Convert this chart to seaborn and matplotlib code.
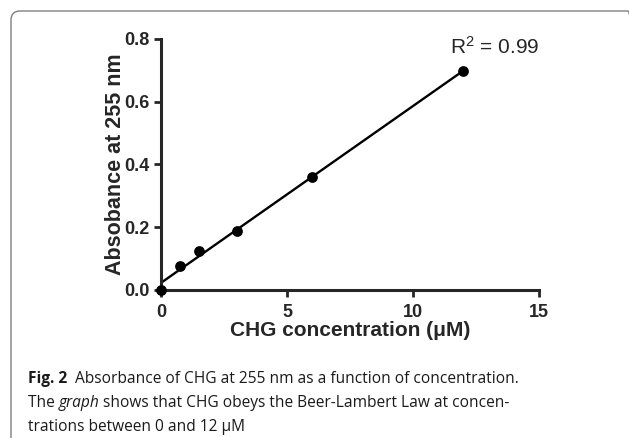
import matplotlib
matplotlib.use("Agg")
import matplotlib.pyplot as plt
from matplotlib.patches import FancyBboxPatch
from matplotlib.transforms import IdentityTransform
import seaborn as sns

# CHG concentration (uM) and absorbance at 255 nm
concentration = [0, 0.75, 1.5, 3, 6, 12]
absorbance = [0.0, 0.077, 0.124, 0.189, 0.359, 0.698]
x_ticks = [0, 5, 10, 15]
y_ticks = [0.0, 0.2, 0.4, 0.6, 0.8]
r_squared = "0.99"

sns.set_style("ticks")
plt.rcParams['font.family'] = ['Liberation Sans', 'DejaVu Sans']

fig = plt.figure(figsize=(6.29, 4.38), dpi=100)
ax = fig.add_axes([0.256, 0.338, 0.601, 0.573])

sns.regplot(x=concentration, y=absorbance, ax=ax, ci=None, truncate=True,
            color="black",
            scatter_kws=dict(s=60, clip_on=False, zorder=5, alpha=1, linewidths=0),
            line_kws=dict(lw=1.7, color="black"))

ax.set_xlim(0, 15)
ax.set_ylim(0, 0.8)
ax.set_xticks(x_ticks)
ax.set_yticks(y_ticks)
ax.set_yticklabels([f"{v:.1f}" for v in y_ticks])
sns.despine(ax=ax)
for side in ["left", "bottom"]:
    ax.spines[side].set_linewidth(2.2)
ax.tick_params(width=2.0, length=5, labelsize=13, pad=3)
ax.tick_params(axis="x", pad=5)
for lab in ax.get_xticklabels() + ax.get_yticklabels():
    lab.set_fontweight("bold")

ax.set_xlabel("CHG concentration (\u03bcM)", fontsize=15, fontweight="bold", labelpad=0)
ax.set_ylabel("Absobance at 255 nm", fontsize=15.5, fontweight="bold", labelpad=-1)

ax.text(11.47, 0.774, r"R$\mathregular{^2}$ = " + r_squared, fontsize=15,
        ha="left", va="center")

# rounded frame of the journal figure panel
frame = FancyBboxPatch((11, -40), 626, 438 - 11 + 40,
                       boxstyle="round,pad=0,rounding_size=9",
                       transform=IdentityTransform(), facecolor="none",
                       edgecolor="#808080", lw=1.0)
fig.patches.append(frame)

# caption
cap = ["Open Sans", "DejaVu Sans"]
fs = 11.2
tc = "#1a1a1a"
t1 = fig.text(0.0445, 1 - 383 / 438, "Fig. 2", fontsize=fs, fontweight="bold",
              family=cap, va="baseline", color=tc)
ax.annotate("  Absorbance of CHG at 255 nm as a function of concentration.",
            xy=(1, 0), xycoords=t1, va="bottom", ha="left", fontsize=fs,
            family=cap, color=tc, annotation_clip=False)
t2 = fig.text(0.0445, 1 - 407 / 438, "The ", fontsize=fs, family=cap,
              va="baseline", color=tc)
t3 = ax.annotate("graph", xy=(1, 0), xycoords=t2, va="bottom", ha="left",
                 fontsize=fs, family=cap, style="italic", color=tc,
                 annotation_clip=False)
ax.annotate(" shows that CHG obeys the Beer-Lambert Law at concen-",
            xy=(1, 0), xycoords=t3, va="bottom", ha="left", fontsize=fs,
            family=cap, color=tc, annotation_clip=False)
fig.text(0.0445, 1 - 431 / 438, "trations between 0 and 12 \u03bcM", fontsize=fs,
         family=cap, va="baseline", color=tc)

fig.savefig("out.png", dpi=100)
